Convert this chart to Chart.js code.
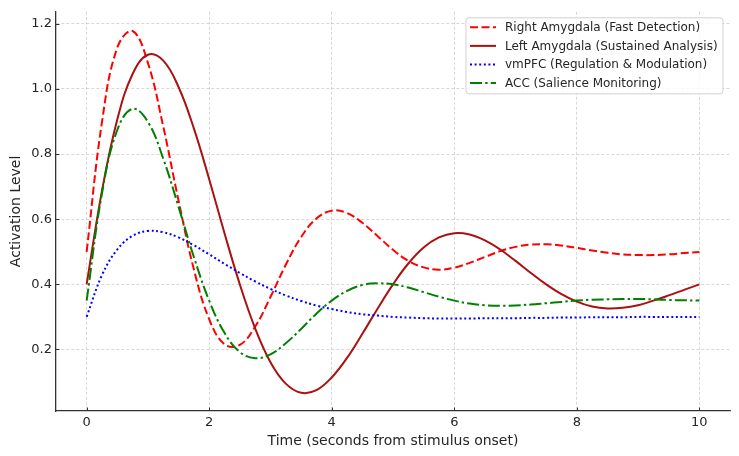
<!DOCTYPE html>
<html>
<head>
<meta charset="utf-8">
<script src="https://cdn.jsdelivr.net/npm/chart.js@4.4.1/dist/chart.umd.min.js"></script>
<style>
html,body{margin:0;padding:0;background:#ffffff;}
#wrap{width:739px;height:456px;}
</style>
</head>
<body>
<div id="wrap"><canvas id="c" width="739" height="456"></canvas></div>
<script>
// ---- data ----
const times = [0,0.25,0.5,0.75,1,1.25,1.5,1.75,2,2.25,2.5,2.75,3,3.25,3.5,3.75,4,4.25,4.5,4.75,5,
  5.25,5.5,5.75,6,6.25,6.5,6.75,7,7.25,7.5,7.75,8,8.25,8.5,8.75,9,9.25,9.5,9.75,10];

const rightAmygdala = [0.500,0.898,1.127,1.178,1.080,0.885,0.657,0.446,0.293,0.216,0.214,0.270,0.361,0.460,0.545,0.602,0.626,0.619,0.589,0.548,0.506,
  0.472,0.452,0.445,0.451,0.466,0.484,0.502,0.515,0.522,0.523,0.519,0.512,0.504,0.497,0.492,0.490,0.490,0.492,0.496,0.499];

const leftAmygdala = [0.400,0.687,0.906,1.046,1.105,1.087,1.006,0.879,0.723,0.557,0.400,0.265,0.161,0.095,0.067,0.075,0.114,0.174,0.248,0.326,0.400,
  0.464,0.513,0.544,0.557,0.553,0.535,0.507,0.472,0.435,0.400,0.370,0.347,0.332,0.326,0.328,0.336,0.350,0.366,0.383,0.400];

const vmPFC = [0.300,0.428,0.507,0.549,0.564,0.560,0.544,0.520,0.492,0.463,0.435,0.409,0.386,0.366,0.349,0.335,0.324,0.315,0.308,0.304,0.300,
  0.298,0.296,0.295,0.295,0.295,0.296,0.296,0.296,0.297,0.297,0.298,0.298,0.299,0.299,0.299,0.300,0.300,0.300,0.300,0.300];

const acc = [0.350,0.679,0.874,0.939,0.899,0.786,0.638,0.484,0.350,0.251,0.192,0.173,0.185,0.219,0.263,0.310,0.350,0.380,0.398,0.403,0.400,
  0.390,0.376,0.362,0.350,0.341,0.336,0.334,0.335,0.338,0.342,0.346,0.350,0.353,0.354,0.355,0.355,0.354,0.352,0.351,0.350];

const seriesLabels = [
  'Right Amygdala (Fast Detection)',
  'Left Amygdala (Sustained Analysis)',
  'vmPFC (Regulation & Modulation)',
  'ACC (Salience Monitoring)'
];
const xTicks = [0,2,4,6,8,10];
const yTicks = [0.2,0.4,0.6,0.8,1.0,1.2];
const xTitle = 'Time (seconds from stimulus onset)';
const yTitle = 'Activation Level';

// ---- build ----
const FONT = '"DejaVu Sans", "Liberation Sans", sans-serif';
const TEXT = '#262626';
const toPts = arr => arr.map((v,i)=>({x:times[i], y:v}));

const styles = [
  {color:'#ff0000', dash:[8,3.5], order:4},
  {color:'#aa1111', dash:[], order:3},
  {color:'#0000ff', dash:[2,2.6], order:2},
  {color:'#008000', dash:[12,3.2,2.4,3.2], order:1}
];
const values = [rightAmygdala, leftAmygdala, vmPFC, acc];

const datasets = values.map((arr,i)=>({
  label: seriesLabels[i],
  data: toPts(arr),
  borderColor: styles[i].color,
  backgroundColor: styles[i].color,
  borderDash: styles[i].dash,
  borderWidth: 2,
  borderCapStyle: 'butt',
  pointRadius: 0,
  tension: 0.4,
  fill: false,
  order: styles[i].order
}));

const boxLegend = {
  id: 'boxLegend',
  afterDraw(chart){
    const ctx = chart.ctx, a = chart.chartArea;
    const right = a.right - 7, top = a.top + 6, w = 257, h = 76, left = right - w;
    ctx.save();
    ctx.beginPath();
    if (ctx.roundRect) ctx.roundRect(left, top, w, h, 3); else ctx.rect(left, top, w, h);
    ctx.fillStyle = 'rgba(255,255,255,0.8)';
    ctx.fill();
    ctx.lineWidth = 1;
    ctx.strokeStyle = '#d0d0d0';
    ctx.stroke();
    [0,1,2,3].forEach((i,row)=>{
      const ds = chart.data.datasets[i];
      const y = top + 9.5 + row*18.6;
      ctx.beginPath();
      ctx.setLineDash(ds.borderDash || []);
      ctx.strokeStyle = ds.borderColor;
      ctx.lineWidth = ds.borderWidth;
      ctx.lineCap = 'butt';
      ctx.moveTo(left + 4, y);
      ctx.lineTo(left + 30, y);
      ctx.stroke();
      ctx.setLineDash([]);
      ctx.fillStyle = TEXT;
      ctx.font = '12px ' + FONT;
      ctx.textBaseline = 'middle';
      ctx.textAlign = 'left';
      ctx.fillText(ds.label, left + 39, y + 0.5);
    });
    ctx.restore();
  }
};

const innerTicks = {
  id: 'innerTicks',
  afterDraw(chart){
    const ctx = chart.ctx, a = chart.chartArea;
    const xs = chart.scales.x, ys = chart.scales.y;
    ctx.save();
    ctx.strokeStyle = '#333333';
    ctx.lineWidth = 1;
    xTicks.forEach(v=>{
      const px = Math.round(xs.getPixelForValue(v)) + 0.5;
      ctx.beginPath(); ctx.moveTo(px, a.bottom); ctx.lineTo(px, a.bottom - 3.5); ctx.stroke();
    });
    yTicks.forEach(v=>{
      const py = Math.round(ys.getPixelForValue(v)) + 0.5;
      ctx.beginPath(); ctx.moveTo(a.left, py); ctx.lineTo(a.left + 3.5, py); ctx.stroke();
    });
    ctx.restore();
  }
};

new Chart(document.getElementById('c'), {
  type: 'line',
  data: { datasets },
  plugins: [innerTicks, boxLegend],
  options: {
    responsive: false,
    animation: false,
    devicePixelRatio: 1,
    layout: { padding: { top: 10, right: 9, left: 0, bottom: 0 } },
    plugins: { legend: { display: false }, tooltip: { enabled: false } },
    scales: {
      x: {
        type: 'linear',
        min: -0.5, max: 10.5,
        afterBuildTicks: s => { s.ticks = xTicks.map(v=>({value:v})); },
        afterFit: s => { s.height = 45; },
        ticks: { font: { size: 13, family: FONT }, color: TEXT, padding: 4, callback: v => String(v) },
        grid: { color: 'rgba(180,180,180,0.65)', lineWidth: 0.8, drawTicks: false },
        border: { display: true, color: '#333333', width: 1.3, dash: [3,2] },
        title: { display: true, text: xTitle, font: { size: 14, family: FONT }, color: TEXT, padding: { top: 4, bottom: 6.5 } }
      },
      y: {
        type: 'linear',
        min: 0.011, max: 1.237,
        afterBuildTicks: s => { s.ticks = yTicks.map(v=>({value:v})); },
        afterFit: s => { s.width = 56; },
        ticks: { font: { size: 13, family: FONT }, color: TEXT, padding: 4, callback: v => Number(v).toFixed(1) },
        grid: { color: 'rgba(180,180,180,0.65)', lineWidth: 0.8, drawTicks: false },
        border: { display: true, color: '#333333', width: 1.3, dash: [3,2] },
        title: { display: true, text: yTitle, font: { size: 14, family: FONT }, color: TEXT, padding: { top: 7.5, bottom: 0 } }
      }
    }
  }
});
</script>
</body>
</html>
